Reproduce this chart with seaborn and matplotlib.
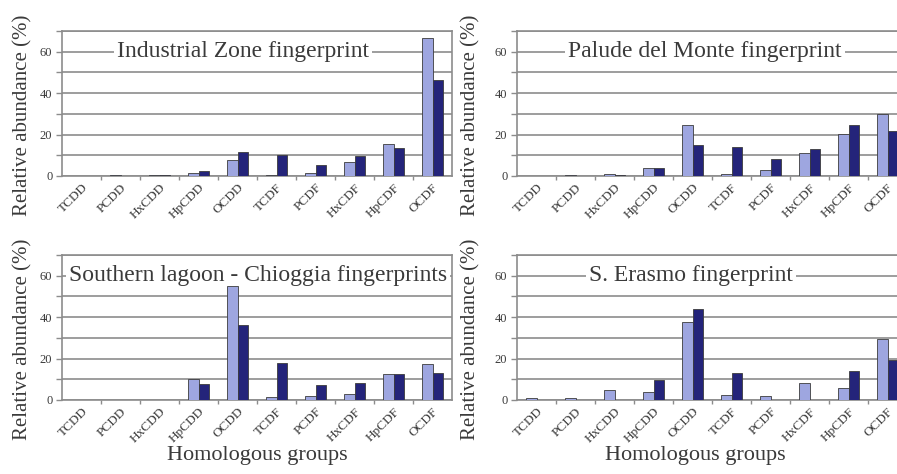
import matplotlib
matplotlib.use("Agg")
import matplotlib.pyplot as plt
import numpy as np
import pandas as pd
import seaborn as sns

# Homologous groups on the x axis
groups = ["TCDD", "PCDD", "HxCDD", "HpCDD", "OCDD",
          "TCDF", "PCDF", "HxCDF", "HpCDF", "OCDF"]
series_names = ["Series 1", "Series 2"]

# Relative abundance (%) per site, two series each
industrial_s1 = [0.0, 0.4, 0.4, 1.3, 7.7, 0.3, 1.3, 6.6, 15.5, 66.6]
industrial_s2 = [0.0, 0.2, 0.3, 2.2, 11.5, 10.2, 5.3, 9.8, 13.7, 46.5]

palude_s1 = [0.0, 0.5, 0.8, 3.9, 24.6, 1.0, 3.0, 11.1, 20.2, 29.7]
palude_s2 = [0.0, 0.2, 0.5, 3.9, 15.2, 13.9, 8.1, 13.1, 24.5, 21.5]

southern_s1 = [0.0, 0.0, 0.0, 10.0, 55.2, 1.6, 2.1, 3.1, 12.4, 17.6]
southern_s2 = [0.0, 0.0, 0.0, 7.6, 36.2, 17.7, 7.2, 8.0, 12.4, 12.9]

erasmo_s1 = [0.8, 0.8, 5.0, 4.0, 37.5, 2.4, 1.8, 8.0, 5.6, 29.6]
erasmo_s2 = [0.0, 0.0, 0.0, 9.7, 43.9, 12.8, 0.0, 0.0, 14.1, 19.2]

titles = ["Industrial Zone fingerprint", "Palude del Monte fingerprint",
          "Southern lagoon - Chioggia fingerprints", "S. Erasmo fingerprint"]
y_ticks = [0, 10, 20, 30, 40, 50, 60, 70]
y_ticklabels = ["0", "", "20", "", "40", "", "60", ""]
y_label = "Relative abundance (%)"
x_label = "Homologous groups"

panels = [
    (industrial_s1, industrial_s2),
    (palude_s1, palude_s2),
    (southern_s1, southern_s2),
    (erasmo_s1, erasmo_s2),
]

light = "#9ea6e0"
dark = "#24247a"
grid_gray = "#8c8c8c"
text_gray = "#3a3a3a"

sns.set_theme(style="white")
plt.rcParams["font.family"] = ["Liberation Serif", "DejaVu Serif"]

W, H = 897, 474
fig = plt.figure(figsize=(W / 100, H / 100), dpi=100)

unit_px = 39  # width of one category slot
# left edge, y of the 70 line, y of the 0 line, right limit of the x range
axes_px = [
    (62, 31, 176, 9.5),
    (517, 31, 176, 9.25),
    (62, 255, 400, 9.5),
    (517, 255, 400, 9.25),
]
title_x = [4.14, 4.32, 4.53, 3.96]
ylabel_x = [-0.075, -0.095, -0.075, -0.095]
xlabel_x = [0.5, 0.5, 0.5, 0.47]

for i, ((s1, s2), (lx, ty, by, xmax)) in enumerate(zip(panels, axes_px)):
    width_px = unit_px * (xmax + 0.5)
    ax = fig.add_axes([lx / W, 1 - by / H, width_px / W, (by - ty) / H])
    df = pd.DataFrame({
        "group": groups * 2,
        "series": [series_names[0]] * len(groups) + [series_names[1]] * len(groups),
        "value": list(s1) + list(s2),
    })
    sns.barplot(data=df, x="group", y="value", hue="series", order=groups,
                hue_order=series_names, palette=[light, dark], saturation=1,
                width=0.56, edgecolor="#3c3c3c", linewidth=0.6,
                legend=False, ax=ax, zorder=3)
    ax.set_xlim(-0.5, xmax)
    ax.set_ylim(0, 70)
    ax.set_yticks(y_ticks)
    ax.set_yticklabels(y_ticklabels, fontsize=9, color=text_gray)
    ax.grid(axis="y", color=grid_gray, linewidth=1.2, zorder=0)
    ax.set_axisbelow(True)

    ax.set_xticks(range(len(groups)))
    ax.set_xticklabels(groups, rotation=45, ha="right", rotation_mode="anchor",
                       fontsize=9.5, color=text_gray)
    ax.set_xticks(np.arange(0.5, 9.5, 1.0), minor=True)
    ax.tick_params(axis="x", which="major", length=0, pad=4)
    ax.tick_params(axis="x", which="minor", length=3, width=1, color=grid_gray,
                   direction="out", bottom=True)
    ax.tick_params(axis="y", length=4, width=1, color=grid_gray, direction="out",
                   left=True, pad=3)

    for side in ["left", "bottom", "right", "top"]:
        ax.spines[side].set_color(grid_gray)
        ax.spines[side].set_linewidth(1.2)
    ax.spines["top"].set_visible(True)
    ax.spines["right"].set_visible(i % 2 == 0)

    ax.set_ylabel(y_label, fontsize=15, color=text_gray)
    ax.yaxis.set_label_coords(ylabel_x[i], 0.42)
    if i >= 2:
        ax.set_xlabel(x_label, fontsize=16, color=text_gray)
        ax.xaxis.set_label_coords(xlabel_x[i], -0.315)
    else:
        ax.set_xlabel("")

    ax.text(title_x[i], 60, titles[i], ha="center", va="center", fontsize=17,
            color=text_gray, zorder=2,
            bbox=dict(facecolor="white", edgecolor="none", pad=2))

fig.savefig("out.png", dpi=100)
